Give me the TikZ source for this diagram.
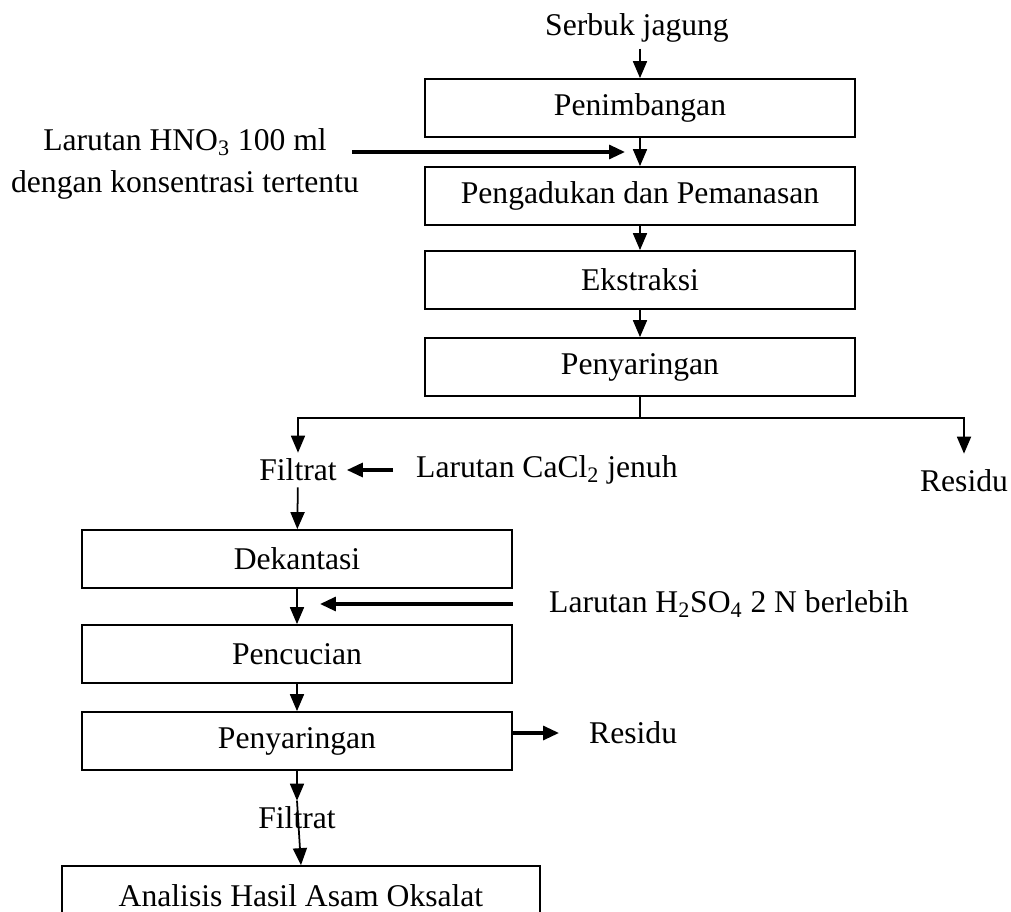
\documentclass[tikz,border=0pt]{standalone}
\usepackage{fontspec}
\setmainfont{Liberation Serif}
\usetikzlibrary{positioning, arrows.meta, calc}

\begin{document}
\begin{tikzpicture}[
    x=0.02cm, y=-0.02cm,
    every node/.style={font=\fontsize{18}{24}\selectfont},
    proc/.style={
        rectangle, draw=black, line width=1pt,
        minimum width=8.6cm, minimum height=1.16cm,
        inner sep=0pt, align=center
    },
    flow/.style={
        -{Triangle[length=3.4mm, width=2.8mm]},
        line width=1pt
    },
    feed/.style={
        -{Triangle[length=3.2mm, width=2.8mm]},
        line width=1.8pt
    }
]
\useasboundingbox (0,0) rectangle (1011,912);

% --- nodes ---
\node (serbuk) at (637,28) {Serbuk jagung};
\node[proc] (timbang) at (640,108) {Penimbangan};
\node[proc] (aduk)    at (640,196) {Pengadukan dan Pemanasan};
\node[proc] (ekstrak) at (640,280) {Ekstraksi};
\node[proc] (saring1) at (640,367) {Penyaringan};
\node[align=center] (hno) at (185,164)
    {Larutan HNO\textsubscript{3} 100 ml\\dengan konsentrasi tertentu};

\node (filtrat1) at (298,470) {Filtrat};
\node[anchor=west] (cacl) at (410,470) {Larutan CaCl\textsubscript{2} jenuh};
\node (residu1) at (964,481) {Residu};

\node[proc] (dekant)  at (297,559) {Dekantasi};
\node[proc] (cuci)    at (297,654) {Pencucian};
\node[proc] (saring2) at (297,741) {Penyaringan};
\node[anchor=west] (hso) at (543,604) {Larutan H\textsubscript{2}SO\textsubscript{4} 2 N berlebih};
\node[anchor=west] (residu2) at (583,733) {Residu};
\node (filtrat2) at (297,818) {Filtrat};
\node[proc, minimum width=9.56cm, minimum height=1.2cm] (analisis) at (301,896)
    {Analisis Hasil Asam Oksalat};

% --- main line, top ---
\draw[flow] (serbuk.south -| timbang.north) -- (timbang.north);
\draw[flow] (timbang) -- (aduk);
\draw[flow] (aduk) -- (ekstrak);
\draw[flow] (ekstrak) -- (saring1);

% --- HNO3 feed ---
\coordinate (hnoin) at (352,152);
\draw[feed, shorten >=0.3cm] (hnoin) -- (hnoin -| timbang.south);

% --- split after first filtering ---
\draw[line width=1pt] (saring1.south) -- ++(0,21) coordinate (split);
\draw[flow] (split) -| (filtrat1.north);
\draw[flow, shorten >=0.2cm] (split) -| (residu1.north);
\draw[feed, shorten <=0.34cm, shorten >=0.08cm] (cacl.west) -- (filtrat1.east);

% --- main line, bottom ---
\draw[flow] (filtrat1) -- (dekant);
\draw[flow] (dekant) -- (cuci);
\draw[feed, shorten >=0.46cm] (dekant.east |- hso.west) -- (dekant.south |- hso.west);
\draw[flow] (cuci) -- (saring2);
\draw[feed, shorten >=0.48cm] (saring2.east |- residu2.west) -- (residu2.west);
\draw[flow] (saring2) -- (filtrat2.north);
\draw[flow] (filtrat2.north) -- (analisis.north);

\end{tikzpicture}
\end{document}
